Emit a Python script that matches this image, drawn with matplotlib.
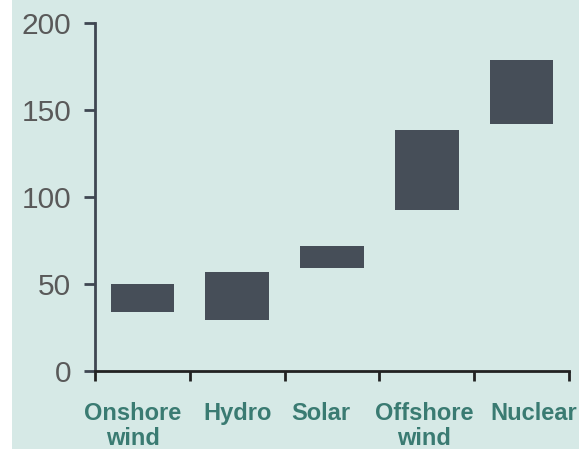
import matplotlib
matplotlib.use('Agg')
from matplotlib import pyplot as plt
from matplotlib.patches import Rectangle

# Cost ranges per technology (low / high)
categories = ['Onshore\nwind', 'Hydro', 'Solar', 'Offshore\nwind', 'Nuclear']
low = [34, 29.5, 59, 92.5, 142]
high = [50, 57, 72, 138.5, 179]

# small horizontal nudges (points) of the category labels, as in the original
label_shift = [-7, 0, -8, -2, 9]

bg = '#d6e9e6'
bar_color = '#464e58'

fig = plt.figure(figsize=(5.79, 4.49), dpi=100)
fig.patch.set_facecolor('white')
fig.patches.append(Rectangle((12 / 579, 0), 1 - 12 / 579, 1, transform=fig.transFigure,
                             facecolor=bg, edgecolor='none', zorder=-10))

ax = fig.add_axes([95 / 579, 1 - 371 / 449, (569 - 95) / 579, (371 - 23) / 449])
ax.set_facecolor(bg)

pos = [i + 0.5 for i in range(len(categories))]
heights = [h - l for l, h in zip(low, high)]
ax.bar(pos, heights, bottom=low, width=0.67, color=bar_color, zorder=3)

ax.set_xlim(0, len(categories))
ax.set_ylim(0, 200)
ax.set_yticks([0, 50, 100, 150, 200])
ax.set_xticks(range(len(categories) + 1))
ax.set_xticklabels([])
for p, lab, dx in zip(pos, categories, label_shift):
    ax.annotate(lab, xy=(p, 0), xycoords=('data', 'axes fraction'),
                xytext=(dx, -22.5), textcoords='offset points',
                ha='center', va='top', fontsize=17, fontweight='bold',
                color='#3a7b72', family='Liberation Sans', linespacing=1.08,
                annotation_clip=False)

ax.tick_params(axis='x', which='major', length=7, width=2, color='#222222', direction='out')
ax.tick_params(axis='y', length=8, width=2, color='#3f4752', pad=9,
               labelsize=21.5, labelcolor='#595959')
for lab in ax.get_yticklabels():
    lab.set_family('Liberation Sans')

for s in ['top', 'right']:
    ax.spines[s].set_visible(False)
ax.spines['left'].set_color('#3f4752')
ax.spines['left'].set_linewidth(2)
ax.spines['bottom'].set_color('#222222')
ax.spines['bottom'].set_linewidth(2)

plt.savefig('out.png', dpi=100, facecolor=fig.get_facecolor())
